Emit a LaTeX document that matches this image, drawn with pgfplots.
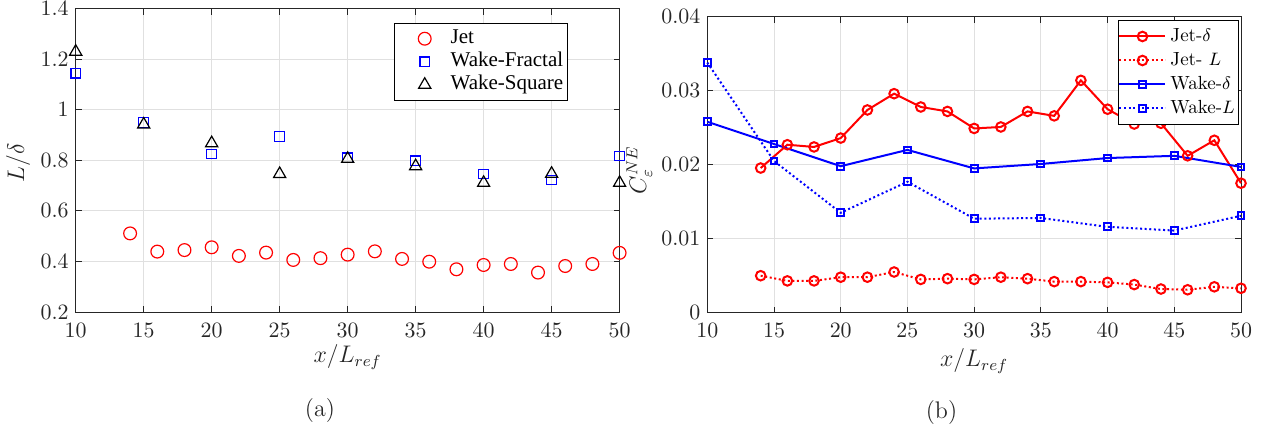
\documentclass[border=0pt]{standalone}
\usepackage{fontspec}
\newfontfamily\timesfont{Liberation Serif}
\usepackage{pgfplots}
\pgfplotsset{compat=1.18}
\definecolor{axgray}{gray}{0.15}
\definecolor{gridgray}{gray}{0.88}
\pgfplotsset{
 common/.style={
  scale only axis, anchor=south west, clip=false,
  axis line style={axgray, line width=0.5pt},
  every tick/.style={axgray, line width=0.5pt},
  major tick length=3pt, tick align=inside,
  grid=major, major grid style={gridgray, line width=0.5pt},
  tick label style={font=\fontsize{10.5}{12}\selectfont, text=axgray},
  xticklabel style={yshift=-2pt},
  label style={font=\fontsize{11.5}{13}\selectfont, text=axgray},
  xmin=10, xmax=50, xtick={10,15,...,50},
  scaled y ticks=false,
 }
}
\begin{document}
\begin{tikzpicture}
\path[use as bounding box] (0,0) rectangle (631.5pt,217.5pt);
% ---------------- (a) ----------------
\begin{axis}[common, at={(37.85pt,61.5pt)}, width=271.95pt, height=151.65pt,
 ymin=0.2, ymax=1.4, ytick={0.2,0.4,0.6,0.8,1,1.2,1.4},
 yticklabel style={/pgf/number format/fixed},
 xlabel={$x/L_{ref}$}, ylabel={$L/\delta$},
 xlabel style={at={(axis description cs:0.5,-0.148)}, anchor=center},
 ylabel style={at={(axis description cs:-0.106,0.491)}, anchor=center},
 legend style={at={(axis description cs:0.9046,0.9538)}, anchor=north east,
   draw=black, line width=0.5pt, inner xsep=0pt, inner ysep=2pt,
   font=\timesfont\fontsize{10.5}{12}\selectfont, cells={anchor=west},
   nodes={text height=7.2pt, text depth=2pt, inner ysep=1.15pt}},
 legend image code/.code={\path (0pt,0pt) (25.4pt,0pt); \draw[#1] plot coordinates {(14.7pt,0pt)};},
]
\addplot[only marks, mark=o, mark size=3.2pt, red, mark options={line width=0.6pt}] coordinates {
(14,0.511) (16,0.439) (18,0.445) (20,0.456) (22,0.422) (24,0.435) (26,0.406) (28,0.413) (30,0.427) (32,0.440)
(34,0.410) (36,0.399) (38,0.369) (40,0.386) (42,0.390) (44,0.356) (46,0.382) (48,0.390) (50,0.434)};
\addlegendentry{Jet}
\addplot[only marks, mark=square, mark size=2.4pt, blue, mark options={line width=0.6pt}] coordinates {
(10,1.145) (15,0.950) (20,0.825) (25,0.895) (30,0.810) (35,0.798) (40,0.746) (45,0.722) (50,0.817)};
\addlegendentry{Wake-Fractal}
\addplot[only marks, mark=triangle, mark size=3.5pt, black, mark options={line width=0.6pt}] coordinates {
(10,1.230) (15,0.942) (20,0.868) (25,0.746) (30,0.806) (35,0.777) (40,0.711) (45,0.747) (50,0.711)};
\addlegendentry{Wake-Square}
\end{axis}
% ---------------- (b) ----------------
\begin{axis}[common, at={(353.65pt,61.15pt)}, width=266.85pt, height=148pt,
 ymin=0, ymax=0.04, ytick={0,0.01,0.02,0.03,0.04},
 yticklabel style={/pgf/number format/fixed, /pgf/number format/precision=2},
 xlabel={$x/L_{ref}$}, ylabel={$C_{\varepsilon}^{NE}$},
 xlabel style={at={(axis description cs:0.5,-0.164)}, anchor=center},
 ylabel style={at={(axis description cs:-0.1274,0.482)}, anchor=center},
 legend style={at={(axis description cs:0.9968,0.9889)}, anchor=north east,
   draw=black, line width=0.5pt, inner xsep=0pt, inner ysep=2pt,
   font=\fontsize{9.5}{11}\selectfont, cells={anchor=west},
   nodes={text height=7.2pt, text depth=2.5pt, inner ysep=1.15pt}},
 legend image code/.code={\draw[mark repeat=2,mark phase=2,#1] plot coordinates {(2.35pt,0pt) (13.85pt,0pt) (25.35pt,0pt)};},
]
\addplot[red, line width=1pt, mark=o, mark size=2.4pt] coordinates {
(14,0.01955) (16,0.0227) (18,0.0224) (20,0.0236) (22,0.0274) (24,0.0296) (26,0.0278) (28,0.0272) (30,0.0249) (32,0.0251)
(34,0.0272) (36,0.0266) (38,0.0314) (40,0.0275) (42,0.0255) (44,0.0256) (46,0.0212) (48,0.0233) (50,0.0175)};
\addlegendentry{Jet-$\delta$}
\addplot[red, line width=1pt, dash pattern=on 1pt off 1.3pt, mark=o, mark size=2.4pt, mark options={solid}] coordinates {
(14,0.0050) (16,0.0043) (18,0.0043) (20,0.0048) (22,0.0048) (24,0.0055) (26,0.0045) (28,0.0046) (30,0.0045) (32,0.0048)
(34,0.0046) (36,0.0042) (38,0.0042) (40,0.0041) (42,0.0038) (44,0.0032) (46,0.0031) (48,0.0035) (50,0.0033)};
\addlegendentry{Jet- $L$}
\addplot[blue, line width=1pt, mark=square, mark size=1.7pt] coordinates {
(10,0.0258) (15,0.0228) (20,0.0198) (25,0.0220) (30,0.0195) (35,0.0201) (40,0.0209) (45,0.0212) (50,0.0197)};
\addlegendentry{Wake-$\delta$}
\addplot[blue, line width=1pt, dash pattern=on 1pt off 1.3pt, mark=square, mark size=1.7pt, mark options={solid}] coordinates {
(10,0.0338) (15,0.0205) (20,0.0135) (25,0.0177) (30,0.0127) (35,0.0128) (40,0.0116) (45,0.0111) (50,0.0131)};
\addlegendentry{Wake-$L$}
\end{axis}
\node[font=\fontsize{12}{14}\selectfont, text=axgray] at (160pt,12pt) {(a)};
\node[font=\fontsize{12}{14}\selectfont, text=axgray] at (470.75pt,11pt) {(b)};
\end{tikzpicture}
\end{document}
